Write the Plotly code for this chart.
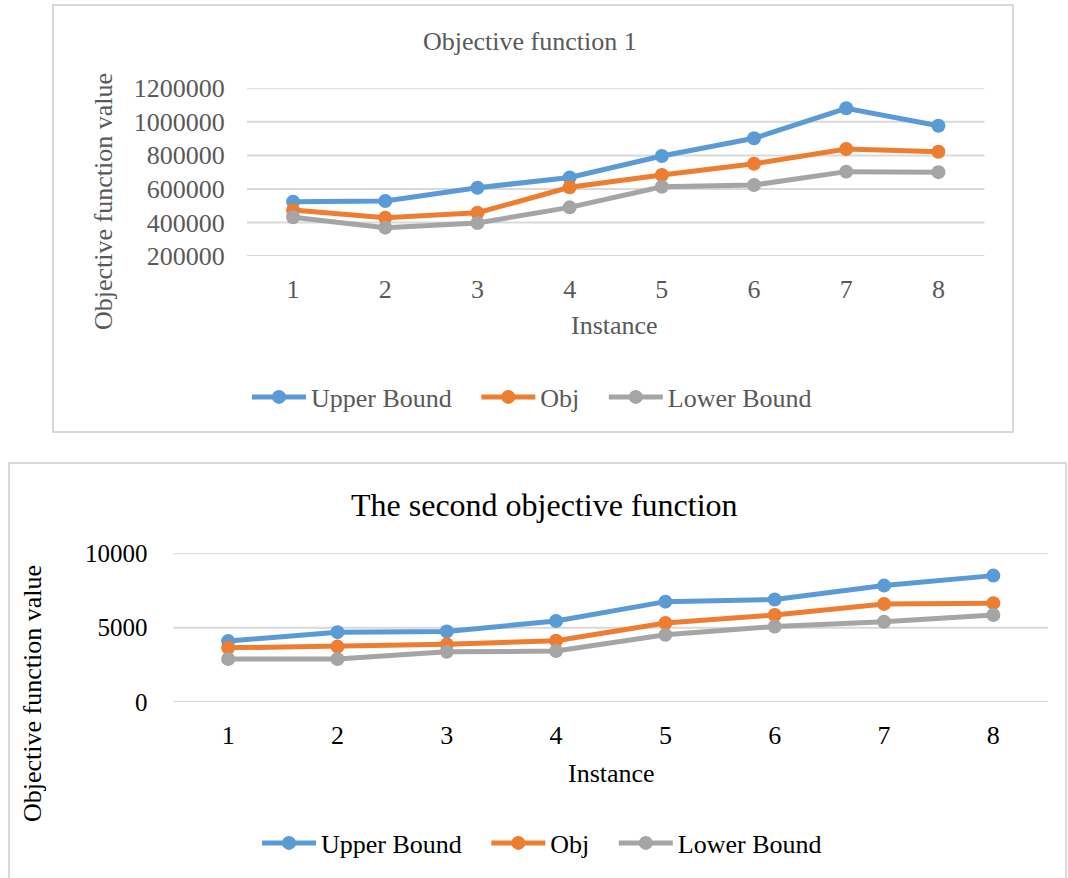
import plotly.graph_objects as go

# ---- data -------------------------------------------------------------
instances = [1, 2, 3, 4, 5, 6, 7, 8]
series_names = ["Upper Bound", "Obj", "Lower Bound"]

# first objective function
upper_bound_1 = [524000, 528000, 607000, 668000, 796000, 902000, 1081000, 977000]
obj_1 = [474000, 428000, 458000, 610000, 683000, 750000, 838000, 822000]
lower_bound_1 = [431000, 369000, 397000, 490000, 613000, 623000, 703000, 700000]

# second objective function
upper_bound_2 = [4100, 4700, 4750, 5450, 6750, 6900, 7830, 8500]
obj_2 = [3650, 3730, 3880, 4130, 5320, 5850, 6600, 6650]
lower_bound_2 = [2900, 2900, 3380, 3430, 4520, 5080, 5400, 5850]

y1_ticks = [200000, 400000, 600000, 800000, 1000000, 1200000]
y2_ticks = [0, 5000, 10000]

# ---- styling ----------------------------------------------------------
W, H = 1068, 878
FONT = "Liberation Serif, Times New Roman, serif"
GREY_TEXT = "#595959"
GRID = "#d9d9d9"
colors = ["#5B9BD5", "#ED7D31", "#A5A5A5"]
NBSP = "\u00a0" * 3  # extra room between legend entries


def px_x(x):
    return x / W


def px_y(y):
    return 1 - y / H


fig = go.Figure()

for name, vals, col in zip(series_names, [upper_bound_1, obj_1, lower_bound_1], colors):
    fig.add_trace(go.Scatter(
        x=instances, y=vals, name=name + NBSP, mode="lines+markers",
        line=dict(color=col, width=5), marker=dict(color=col, size=14),
        xaxis="x", yaxis="y", legend="legend", cliponaxis=False,
    ))

for name, vals, col in zip(series_names, [upper_bound_2, obj_2, lower_bound_2], colors):
    fig.add_trace(go.Scatter(
        x=instances, y=vals, name=name + NBSP, mode="lines+markers",
        line=dict(color=col, width=5), marker=dict(color=col, size=14),
        xaxis="x2", yaxis="y2", legend="legend2", cliponaxis=False,
    ))

xcommon = dict(range=[0.5, 8.5], tickvals=instances, showgrid=False, zeroline=False,
               showline=False, ticks="outside", ticklen=10, tickcolor="rgba(0,0,0,0)")
ycommon = dict(showgrid=False, zeroline=False, showline=False,
               ticks="outside", tickcolor="rgba(0,0,0,0)")

fig.update_layout(
    width=W, height=H,
    margin=dict(l=0, r=0, t=0, b=0, autoexpand=False),
    paper_bgcolor="white", plot_bgcolor="white",
    font=dict(family=FONT, size=26, color=GREY_TEXT),
    xaxis=dict(domain=[px_x(247), px_x(984.5)], anchor="y",
               tickfont=dict(color=GREY_TEXT, size=26), **xcommon),
    yaxis=dict(domain=[px_y(256), px_y(88.3)], anchor="x", range=[200000, 1200000],
               tickvals=y1_ticks, ticktext=[str(v) for v in y1_ticks], ticklen=16,
               tickfont=dict(color=GREY_TEXT, size=26), **ycommon),
    xaxis2=dict(domain=[px_x(173.5), px_x(1048)], anchor="y2",
                tickfont=dict(color="black", size=26), **xcommon),
    yaxis2=dict(domain=[px_y(702.1), px_y(553.3)], anchor="x2", range=[0, 10000],
                tickvals=y2_ticks, ticktext=[str(v) for v in y2_ticks], ticklen=20,
                tickfont=dict(color="black", size=25), **ycommon),
    legend=dict(orientation="h", x=px_x(247), y=px_y(397), xanchor="left", yanchor="middle",
                font=dict(family=FONT, size=26, color=GREY_TEXT), bgcolor="rgba(0,0,0,0)",
                itemwidth=54, traceorder="normal"),
    legend2=dict(orientation="h", x=px_x(257), y=px_y(843), xanchor="left", yanchor="middle",
                 font=dict(family=FONT, size=26, color="black"), bgcolor="rgba(0,0,0,0)",
                 itemwidth=54, traceorder="normal"),
    showlegend=True,
)

# horizontal gridlines at every tick value (including the range ends)
for axis_id, ticks in (("", y1_ticks), ("2", y2_ticks)):
    for v in ticks:
        fig.add_shape(type="line", xref=f"x{axis_id} domain", yref=f"y{axis_id}",
                      x0=0, x1=1, y0=v, y1=v, line=dict(color=GRID, width=2), layer="below")

# chart frames
fig.add_shape(type="rect", xref="paper", yref="paper",
              x0=px_x(53), x1=px_x(1013), y0=px_y(432), y1=px_y(5),
              line=dict(color=GRID, width=2), layer="below")
fig.add_shape(type="rect", xref="paper", yref="paper",
              x0=px_x(9), x1=px_x(1066), y0=px_y(890), y1=px_y(463),
              line=dict(color=GRID, width=2), layer="below")

# titles
annotations = [
    dict(text="Objective function 1", x=px_x(530), y=px_y(42), font=dict(size=26, color=GREY_TEXT)),
    dict(text="Instance", x=px_x(614), y=px_y(326), font=dict(size=26, color=GREY_TEXT)),
    dict(text="Objective function value", x=px_x(103), y=px_y(202), textangle=-90,
         font=dict(size=26, color=GREY_TEXT)),
    dict(text="The second objective function", x=px_x(544), y=px_y(505),
         font=dict(size=32, color="black")),
    dict(text="Instance", x=px_x(611), y=px_y(773), font=dict(size=26, color="black")),
    dict(text="Objective function value", x=px_x(32), y=px_y(694), textangle=-90,
         font=dict(size=26, color="black")),
]
for a in annotations:
    fig.add_annotation(xref="paper", yref="paper", showarrow=False,
                       xanchor="center", yanchor="middle", font_family=FONT, **a)

fig.write_html("out.html")
